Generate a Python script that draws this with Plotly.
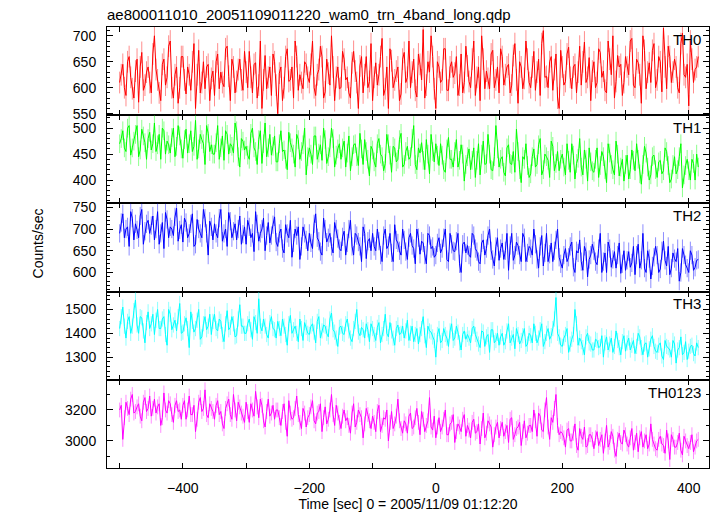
import plotly.graph_objects as go
from plotly.subplots import make_subplots

# ---- data ----
# main samples at t = -500, -495, ... ; mid samples at t = -497.5, -492.5, ...
time_start = -500
time_step = 5

th0 = [610, 645, 585, 660, 598, 632, 572, 668, 605, 640,
       590, 700, 615, 575, 655, 620, 690, 580, 640, 600,
       660, 588, 625, 650, 560, 672, 610, 598, 645, 618,
       585, 665, 630, 602, 680, 575, 640, 612, 655, 595,
       630, 670, 590, 648, 605, 560, 662, 620, 585, 650,
       550, 640, 600, 675, 615, 580, 660, 625, 598, 645,
       610, 690, 585, 635, 660, 592, 628, 700, 575, 640,
       600, 655, 620, 580, 670, 610, 642, 590, 660, 612,
       575, 648, 625, 695, 598, 560, 652, 615, 640, 588,
       668, 620, 600, 655, 582, 645, 712, 605, 630, 660,
       560, 640, 615, 675, 595, 650, 628, 585, 665, 610,
       642, 600, 690, 620, 575, 655, 632, 598, 672, 615,
       590, 660, 625, 645, 605, 685, 570, 640, 618, 655,
       600, 670, 630, 585, 710, 622, 650, 595, 665, 560,
       640, 612, 678, 598, 645, 630, 605, 688, 620, 575,
       650, 610, 668, 632, 590, 655, 700, 612, 640, 585,
       660, 625, 695, 600, 648, 570, 672, 630, 610, 685,
       615, 650, 715, 598, 660, 630, 640, 590, 705, 620,
       565, 655, 635, 660]
th0_mid = [625, 600, 650, 620, 580, 655, 640, 595, 630, 610,
           665, 635, 590, 645, 605, 680, 600, 625, 570, 660,
           615, 640, 595, 685, 625, 590, 650, 640, 575, 632,
           650, 598, 610, 675, 622, 655, 590, 635, 615, 670,
           600, 620, 645, 580, 690, 615, 598, 640, 665, 605,
           628, 575, 660, 612, 640, 690, 595, 610, 650, 620,
           645, 600, 625, 680, 580, 655, 605, 640, 620, 598,
           670, 615, 590, 648, 632, 560, 660, 625, 600, 685,
           620, 605, 660, 585, 640, 675, 600, 632, 575, 655,
           610, 690, 630, 595, 665, 615, 580, 650, 700, 598,
           650, 610, 675, 595, 640, 620, 660, 605, 590, 680,
           612, 655, 585, 640, 700, 598, 618, 665, 600, 640,
           675, 605, 640, 590, 662, 615, 650, 598, 690, 610,
           640, 595, 655, 685, 620, 600, 660, 635, 580, 672,
           605, 665, 620, 640, 590, 680, 650, 610, 658, 632,
           600, 675, 620, 595, 690, 625, 580, 662, 645, 610,
           640, 690, 605, 655, 625, 700, 598, 648, 672, 600,
           660, 592, 640, 680, 610, 655, 600, 685, 625, 645,
           690, 610, 640]

th1 = [470, 495, 455, 505, 462, 488, 445, 498, 472, 480,
       458, 510, 468, 440, 495, 475, 452, 500, 465, 485,
       442, 498, 470, 455, 515, 460, 478, 430, 490, 468,
       450, 505, 462, 438, 488, 470, 452, 495, 425, 475,
       465, 440, 500, 455, 478, 432, 510, 462, 448, 485,
       435, 495, 458, 420, 472, 450, 488, 440, 468, 410,
       462, 430, 485, 452, 438, 478, 445, 500, 425, 460,
       440, 475, 452, 418, 468, 445, 490, 430, 455, 408,
       458, 425, 480, 445, 432, 470, 415, 462, 440, 490,
       430, 465, 445, 505, 420, 452, 438, 478, 412, 455,
       470, 428, 448, 415, 482, 440, 455, 425, 468, 398,
       445, 420, 462, 438, 410, 475, 432, 450, 418, 505,
       425, 445, 408, 468, 430, 415, 455, 395, 440, 428,
       412, 460, 430, 480, 420, 445, 405, 465, 432, 418,
       450, 410, 438, 470, 402, 442, 425, 458, 398, 435,
       415, 462, 428, 445, 395, 452, 420, 475, 408, 440,
       430, 402, 458, 418, 440, 392, 465, 425, 410, 448,
       405, 438, 418, 455, 395, 430, 412, 445, 385, 428,
       418, 440, 400, 425]
th1_mid = [480, 462, 500, 448, 475, 505, 458, 485, 440, 492,
           470, 455, 488, 500, 450, 468, 482, 445, 505, 460,
           478, 452, 495, 465, 440, 488, 470, 505, 455, 450,
           472, 440, 485, 495, 450, 465, 510, 445, 480, 458,
           448, 490, 462, 430, 495, 470, 445, 488, 465, 435,
           470, 455, 440, 492, 462, 425, 478, 455, 500, 445,
           450, 485, 440, 468, 500, 432, 462, 480, 448, 470,
           462, 425, 485, 445, 470, 428, 460, 478, 440, 465,
           435, 470, 450, 418, 488, 448, 465, 435, 478, 425,
           455, 440, 480, 430, 462, 472, 420, 450, 488, 435,
           448, 470, 420, 460, 440, 425, 478, 438, 450, 430,
           460, 438, 405, 470, 450, 430, 488, 420, 445, 460,
           440, 415, 462, 432, 455, 498, 420, 445, 470, 405,
           445, 425, 468, 410, 450, 438, 475, 418, 455, 440,
           425, 470, 415, 448, 432, 480, 410, 440, 462, 418,
           440, 405, 455, 420, 470, 430, 410, 450, 425, 398,
           448, 420, 438, 470, 412, 430, 452, 400, 445, 420,
           435, 412, 462, 428, 402, 445, 420, 470, 410, 440,
           400, 432, 450]

th2 = [690, 735, 700, 660, 725, 712, 680, 745, 695, 720,
       708, 675, 740, 690, 655, 722, 705, 685, 748, 698,
       670, 715, 690, 735, 665, 700, 680, 725, 640, 705,
       712, 680, 745, 690, 660, 718, 695, 675, 730, 688,
       665, 705, 690, 740, 672, 700, 650, 715, 685, 728,
       660, 700, 645, 690, 720, 668, 685, 630, 705, 675,
       690, 655, 735, 672, 640, 700, 680, 660, 715, 678,
       650, 695, 668, 720, 640, 685, 660, 705, 632, 678,
       690, 650, 672, 625, 700, 662, 645, 710, 668, 640,
       675, 630, 690, 655, 700, 642, 668, 620, 685, 660,
       640, 680, 655, 700, 625, 665, 648, 690, 600, 670,
       662, 635, 685, 648, 620, 675, 655, 700, 630, 660,
       628, 668, 650, 605, 690, 640, 662, 625, 680, 645,
       655, 700, 630, 660, 615, 690, 642, 625, 675, 635,
       610, 655, 635, 670, 600, 645, 625, 660, 590, 640,
       650, 618, 690, 625, 600, 655, 630, 610, 668, 620,
       605, 648, 622, 595, 665, 628, 610, 650, 585, 635,
       640, 608, 672, 615, 595, 645, 625, 580, 655, 618,
       600, 640, 612, 630]
th2_mid = [715, 680, 705, 740, 675, 698, 730, 665, 712, 690,
           730, 700, 665, 715, 738, 680, 700, 728, 672, 710,
           725, 680, 712, 660, 722, 690, 745, 690, 718, 675,
           690, 725, 672, 700, 738, 680, 712, 700, 665, 705,
           720, 680, 648, 712, 690, 725, 685, 668, 710, 670,
           690, 655, 710, 680, 635, 700, 705, 660, 690, 650,
           668, 712, 680, 648, 725, 670, 690, 645, 700, 655,
           682, 640, 700, 660, 690, 670, 625, 690, 672, 650,
           660, 700, 640, 685, 655, 690, 625, 675, 650, 700,
           648, 680, 662, 620, 680, 672, 640, 690, 655, 635,
           668, 645, 680, 630, 690, 650, 672, 620, 665, 645,
           640, 690, 655, 625, 668, 640, 685, 650, 615, 680,
           655, 630, 690, 662, 628, 670, 640, 690, 625, 660,
           640, 665, 610, 685, 645, 625, 668, 650, 700, 620,
           640, 625, 660, 612, 650, 675, 605, 648, 630, 665,
           625, 655, 600, 645, 670, 612, 648, 640, 598, 650,
           628, 612, 660, 640, 610, 690, 600, 632, 615, 660,
           600, 650, 628, 660, 610, 632, 655, 600, 640, 610,
           650, 605, 628]

th3 = [1420, 1510, 1380, 1470, 1430, 1540, 1400, 1465, 1360, 1490,
       1440, 1395, 1500, 1420, 1470, 1350, 1480, 1435, 1410, 1525,
       1405, 1465, 1340, 1450, 1420, 1500, 1385, 1470, 1430, 1395,
       1480, 1410, 1450, 1365, 1495, 1425, 1440, 1390, 1520, 1430,
       1400, 1460, 1375, 1445, 1545, 1410, 1430, 1380, 1470, 1415,
       1450, 1390, 1430, 1350, 1475, 1415, 1400, 1460, 1370, 1425,
       1395, 1440, 1360, 1470, 1410, 1430, 1385, 1485, 1405, 1345,
       1430, 1395, 1460, 1380, 1420, 1500, 1390, 1415, 1440, 1365,
       1420, 1370, 1445, 1395, 1480, 1385, 1410, 1350, 1435, 1400,
       1380, 1455, 1400, 1365, 1420, 1395, 1470, 1340, 1410, 1385,
       1300, 1420, 1370, 1395, 1345, 1440, 1380, 1405, 1330, 1410,
       1395, 1360, 1430, 1375, 1340, 1405, 1385, 1320, 1415, 1370,
       1350, 1400, 1365, 1440, 1380, 1335, 1395, 1370, 1420, 1355,
       1390, 1440, 1360, 1415, 1345, 1400, 1375, 1420, 1550, 1385,
       1345, 1395, 1320, 1375, 1500, 1350, 1365, 1310, 1400, 1355,
       1330, 1370, 1345, 1300, 1385, 1355, 1320, 1410, 1340, 1365,
       1325, 1380, 1350, 1315, 1400, 1340, 1355, 1300, 1375, 1345,
       1320, 1360, 1290, 1345, 1330, 1370, 1275, 1340, 1310, 1365,
       1325, 1350, 1305, 1340]
th3_mid = [1470, 1430, 1450, 1400, 1495, 1435, 1470, 1410, 1445, 1420,
           1480, 1455, 1420, 1460, 1395, 1500, 1415, 1455, 1470, 1400,
           1440, 1420, 1490, 1405, 1455, 1375, 1440, 1415, 1480, 1450,
           1420, 1460, 1395, 1440, 1415, 1470, 1385, 1460, 1430, 1400,
           1440, 1415, 1470, 1400, 1430, 1460, 1395, 1445, 1420, 1380,
           1420, 1460, 1395, 1440, 1400, 1430, 1365, 1420, 1445, 1400,
           1430, 1405, 1450, 1380, 1435, 1400, 1460, 1415, 1380, 1425,
           1400, 1440, 1410, 1365, 1450, 1405, 1425, 1380, 1415, 1440,
           1395, 1425, 1360, 1420, 1400, 1445, 1380, 1420, 1395, 1430,
           1410, 1370, 1430, 1395, 1355, 1420, 1390, 1430, 1405, 1370,
           1395, 1360, 1420, 1380, 1410, 1370, 1430, 1360, 1395, 1375,
           1380, 1420, 1395, 1355, 1410, 1345, 1395, 1415, 1360, 1400,
           1385, 1350, 1410, 1360, 1395, 1420, 1355, 1390, 1345, 1400,
           1360, 1400, 1380, 1440, 1365, 1420, 1390, 1460, 1400, 1350,
           1380, 1420, 1355, 1395, 1440, 1380, 1340, 1385, 1360, 1330,
           1375, 1340, 1390, 1360, 1330, 1380, 1345, 1370, 1310, 1390,
           1360, 1330, 1370, 1345, 1385, 1310, 1360, 1335, 1390, 1325,
           1350, 1305, 1370, 1340, 1300, 1355, 1330, 1385, 1320, 1290,
           1345, 1315, 1360]

th0123 = [3200, 3010, 3250, 3170, 3300, 3190, 3240, 3130, 3280, 3210,
          3160, 3270, 3220, 3100, 3310, 3180, 3240, 3120, 3260, 3200,
          3230, 3140, 3290, 3170, 3060, 3250, 3190, 3330, 3150, 3210,
          3140, 3260, 3190, 3080, 3240, 3170, 3300, 3130, 3220, 3160,
          3250, 3120, 3200, 3320, 3150, 3230, 3090, 3270, 3180, 3140,
          3200, 3100, 3240, 3030, 3180, 3150, 3290, 3120, 3210, 3090,
          3170, 3260, 3110, 3190, 3060, 3220, 3140, 3300, 3100, 3180,
          3080, 3200, 3150, 3050, 3240, 3120, 3170, 3020, 3210, 3130,
          3160, 3060, 3230, 3100, 3140, 3000, 3190, 3110, 3270, 3080,
          3130, 3050, 3180, 3090, 3210, 3040, 3140, 3100, 3280, 3070,
          3020, 3150, 3090, 3200, 3040, 3120, 2990, 3110, 3060, 3170,
          3100, 3020, 3140, 3060, 2980, 3180, 3050, 3110, 2960, 3090,
          3020, 3120, 3060, 2990, 3150, 3040, 3090, 2970, 3130, 3050,
          3100, 3200, 3030, 3160, 3060, 3280, 3010, 3120, 3300, 3040,
          3050, 2960, 3080, 3000, 3110, 2940, 3030, 3090, 2970, 3040,
          2950, 3060, 3010, 2920, 3100, 2990, 3030, 2900, 3050, 2980,
          3040, 2960, 3080, 2990, 2930, 3060, 3000, 2950, 3110, 2980,
          2940, 3030, 2970, 3070, 2880, 3010, 2960, 3050, 2910, 3000,
          2950, 3040, 2960, 3010]
th0123_mid = [3230, 3150, 3210, 3270, 3180, 3220, 3160, 3250, 3190, 3290,
              3210, 3180, 3240, 3150, 3200, 3260, 3170, 3230, 3190, 3140,
              3260, 3200, 3170, 3230, 3140, 3280, 3210, 3170, 3240, 3190,
              3230, 3170, 3110, 3210, 3270, 3140, 3200, 3250, 3180, 3120,
              3190, 3240, 3160, 3220, 3270, 3130, 3190, 3160, 3230, 3200,
              3150, 3190, 3120, 3260, 3140, 3210, 3170, 3080, 3180, 3150,
              3220, 3130, 3180, 3240, 3150, 3110, 3200, 3170, 3230, 3120,
              3160, 3130, 3100, 3180, 3090, 3200, 3150, 3110, 3170, 3080,
              3120, 3190, 3060, 3150, 3200, 3120, 3080, 3160, 3130, 3050,
              3110, 3160, 3080, 3150, 3120, 3190, 3060, 3130, 3090, 3160,
              3090, 3060, 3140, 3040, 3110, 3170, 3060, 3090, 3140, 3030,
              3070, 3120, 3050, 3110, 3080, 3020, 3130, 3090, 3040, 3120,
              3080, 3030, 3100, 3140, 3010, 3080, 3120, 3060, 3020, 3100,
              3060, 3130, 3180, 3070, 3200, 3090, 3150, 3210, 3100, 3060,
              3020, 3070, 3000, 3050, 2970, 3080, 3010, 2960, 3040, 3010,
              3020, 2970, 3040, 3000, 2960, 3060, 2940, 3010, 2990, 3070,
              2980, 3020, 2940, 3050, 3020, 2960, 3040, 2980, 3010, 2950,
              3010, 2980, 2920, 3000, 3040, 2960, 2990, 2940, 3030, 2970,
              2990, 2930, 3000]

# typical error-bar half heights
series_errors = [21, 18, 21, 32, 48]

series_names = ["TH0", "TH1", "TH2", "TH3", "TH0123"]
series_main = [th0, th1, th2, th3, th0123]
series_mid = [th0_mid, th1_mid, th2_mid, th3_mid, th0123_mid]
series_colors = ["#ff0000", "#00ff00", "#0000ff", "#00ffff", "#ff00ff"]
error_colors = ["rgba(255,0,0,0.45)", "rgba(0,255,0,0.45)", "rgba(0,0,255,0.45)",
                "rgba(0,255,255,0.45)", "rgba(255,0,255,0.45)"]
y_ranges = [[547, 717], [355, 525], [556, 759], [1205, 1575], [2825, 3395]]
y_dticks = [50, 50, 50, 100, 200]
y_minor = [10, 10, 10, 20, 100]

title_text = "ae800011010_20051109011220_wam0_trn_4band_long.qdp"
x_title = "Time [sec] 0 = 2005/11/09 01:12:20"
y_title = "Counts/sec"

FONT = "Liberation Sans, Helvetica, Arial, sans-serif"

fig = make_subplots(rows=5, cols=1, shared_xaxes=True, vertical_spacing=0)

for i, name in enumerate(series_names):
    main, mid = series_main[i], series_mid[i]
    pts = [(time_start + time_step * k, v) for k, v in enumerate(main)]
    pts += [(time_start + time_step / 2 + time_step * k, v) for k, v in enumerate(mid)]
    pts.sort()
    t = [p[0] for p in pts]
    y = [p[1] for p in pts]
    fig.add_trace(go.Scatter(x=t, y=y, mode="lines", name=name,
                             line=dict(color=series_colors[i], width=1), showlegend=False,
                             error_y=dict(type="constant", value=series_errors[i],
                                          color=error_colors[i], thickness=1, width=0)),
                  row=i + 1, col=1)
    fig.update_yaxes(range=y_ranges[i], dtick=y_dticks[i], tick0=0,
                     minor=dict(dtick=y_minor[i], ticks="inside", ticklen=3,
                                tickcolor="black", showgrid=False),
                     row=i + 1, col=1)
    fig.add_annotation(text=name, xref="x domain", yref="y domain" if i == 0 else f"y{i+1} domain",
                       x=0.99, y=0.98, xanchor="right", yanchor="top", showarrow=False,
                       font=dict(family=FONT, size=15, color="black"))

fig.update_xaxes(range=[-520, 432], dtick=200, tick0=0, showline=True, linecolor="black",
                 linewidth=1, mirror="allticks", ticks="inside", ticklen=5, tickcolor="black",
                 showgrid=False, zeroline=False,
                 minor=dict(dtick=100, ticks="inside", ticklen=5, tickcolor="black", showgrid=False),
                 tickfont=dict(family=FONT, size=14, color="black"))
fig.update_xaxes(ticklabelstandoff=7, row=5, col=1)
fig.update_xaxes(title=dict(text=x_title, font=dict(family=FONT, size=14, color="black"), standoff=3),
                 row=5, col=1)
fig.update_yaxes(showline=True, linecolor="black", linewidth=1, mirror="allticks",
                 ticks="inside", ticklen=6, tickcolor="black", showgrid=False, zeroline=False,
                 ticklabelstandoff=7,
                 tickfont=dict(family=FONT, size=14, color="black"))

fig.add_annotation(text=y_title, xref="paper", yref="paper", x=-0.114, y=0.51,
                   xanchor="center", yanchor="middle", textangle=-90, showarrow=False,
                   font=dict(family=FONT, size=14, color="black"))

fig.update_layout(
    width=717, height=516,
    margin=dict(l=107, r=7, t=27, b=40),
    paper_bgcolor="white", plot_bgcolor="white",
    title=dict(text=title_text, x=107 / 717, xanchor="left", y=1 - 15 / 516, yanchor="middle",
               font=dict(family=FONT, size=15, color="black")),
)

fig.write_html("out.html", config={"displayModeBar": False},
               post_script="document.body.style.margin='0';")
